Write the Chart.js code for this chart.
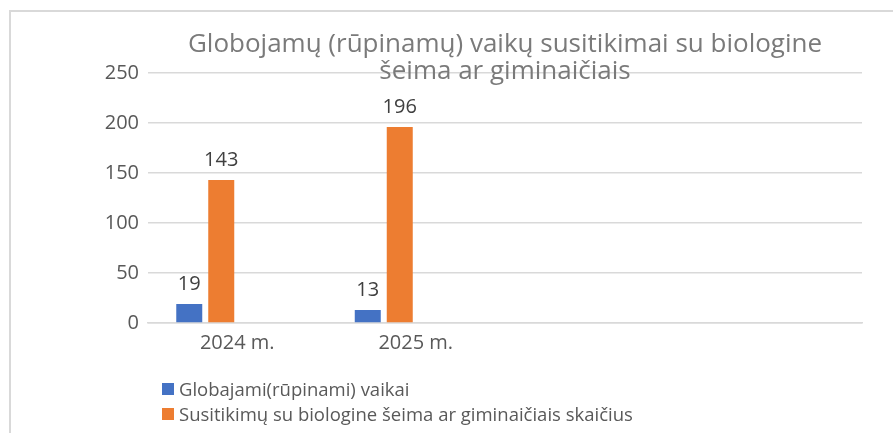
<!DOCTYPE html>
<html>
<head>
<meta charset="utf-8">
<script src="https://cdn.jsdelivr.net/npm/chart.js@4.4.1/dist/chart.umd.min.js"></script>
<style>
  html, body { margin: 0; padding: 0; background: #fff; overflow: hidden; }
  body { width: 893px; height: 433px; position: relative; font-family: "Open Sans", sans-serif; }
  #frame { position: absolute; left: 9px; top: 10px; width: 1000px; height: 500px; border: 2px solid #d9d9d9; box-sizing: border-box; }
  #wrap { position: absolute; left: 0; top: 0; width: 893px; height: 433px; }
  #legend { position: absolute; left: 162px; top: 376px; font-size: 18.5px; color: #595959; line-height: 25px; }
  #legend .item { display: flex; align-items: center; white-space: nowrap; }
  #legend .sw { width: 12px; height: 12px; margin-right: 5px; display: inline-block; }
</style>
</head>
<body>
<div id="frame"></div>
<div id="wrap"><canvas id="c" width="893" height="433"></canvas></div>
<div id="legend"></div>
<script>
// ---- data ----
const categories = ['2024 m.', '2025 m.', '', ''];
const seriesNames = ['Globajami(rūpinami) vaikai', 'Susitikimų su biologine šeima ar giminaičiais skaičius'];
const childrenValues = [19, 13, null, null];
const meetingsValues = [143, 196, null, null];
const emptySeries = [null, null, null, null];
const yTicks = [0, 50, 100, 150, 200, 250];
const titleLines = ['Globojamų (rūpinamų) vaikų susitikimai su biologine', 'šeima ar giminaičiais'];

const colors = ['#4472C4', '#ED7D31'];
const FONT = '"Open Sans", sans-serif';

const dataLabels = {
  id: 'dataLabels',
  afterDatasetsDraw(chart) {
    const ctx = chart.ctx;
    ctx.save();
    ctx.font = '20px ' + FONT;
    ctx.fillStyle = '#404040';
    ctx.textAlign = 'center';
    ctx.textBaseline = 'middle';
    chart.data.datasets.forEach((ds, di) => {
      if (!ds.showLabels) return;
      const meta = chart.getDatasetMeta(di);
      meta.data.forEach((el, i) => {
        const v = ds.data[i];
        if (v === null || v === undefined) return;
        ctx.fillText(String(v), el.x, el.y - 20);
      });
    });
    ctx.restore();
  }
};

const chart = new Chart(document.getElementById('c'), {
  type: 'bar',
  data: {
    labels: categories,
    datasets: [
      { label: seriesNames[0], data: childrenValues, backgroundColor: colors[0], showLabels: true },
      { label: seriesNames[1], data: meetingsValues, backgroundColor: colors[1], showLabels: true },
      { label: '', data: emptySeries, backgroundColor: 'transparent' },
      { label: '', data: emptySeries, backgroundColor: 'transparent' }
    ]
  },
  options: {
    responsive: false,
    maintainAspectRatio: false,
    animation: false,
    devicePixelRatio: 1,
    datasets: { bar: { categoryPercentage: 0.717, barPercentage: 0.8125 } },
    layout: { padding: { left: 0, right: 31, top: 0, bottom: 70 } },
    plugins: {
      legend: { display: false },
      tooltip: { enabled: false },
      title: {
        display: true,
        text: titleLines,
        fullSize: false,
        color: '#7a7a7a',
        font: { family: FONT, size: 26, weight: 'normal', lineHeight: 1.04 },
        padding: { top: 31.5, bottom: -12.5 }
      }
    },
    scales: {
      x: {
        grid: { display: false, drawTicks: false },
        border: { display: true, color: '#d9d9d9', width: 1.5 },
        ticks: { color: '#595959', font: { family: FONT, size: 20 }, padding: 8, maxRotation: 0 },
        afterFit(s) { s.height = 40; }
      },
      y: {
        min: 0, max: 250,
        afterBuildTicks(s) { s.ticks = yTicks.map(v => ({ value: v })); },
        grid: { color: '#d9d9d9', lineWidth: 1.5, drawTicks: false },
        border: { display: false },
        ticks: { color: '#595959', font: { family: FONT, size: 20 }, padding: 9 },
        afterFit(s) { s.width = 148; }
      }
    }
  },
  plugins: [dataLabels]
});

// legend built from the chart's own dataset definitions
const leg = document.getElementById('legend');
chart.data.datasets.slice(0, 2).forEach(ds => {
  const d = document.createElement('div');
  d.className = 'item';
  const sw = document.createElement('span');
  sw.className = 'sw';
  sw.style.background = ds.backgroundColor;
  d.appendChild(sw);
  d.appendChild(document.createTextNode(ds.label));
  leg.appendChild(d);
});
</script>
</body>
</html>
